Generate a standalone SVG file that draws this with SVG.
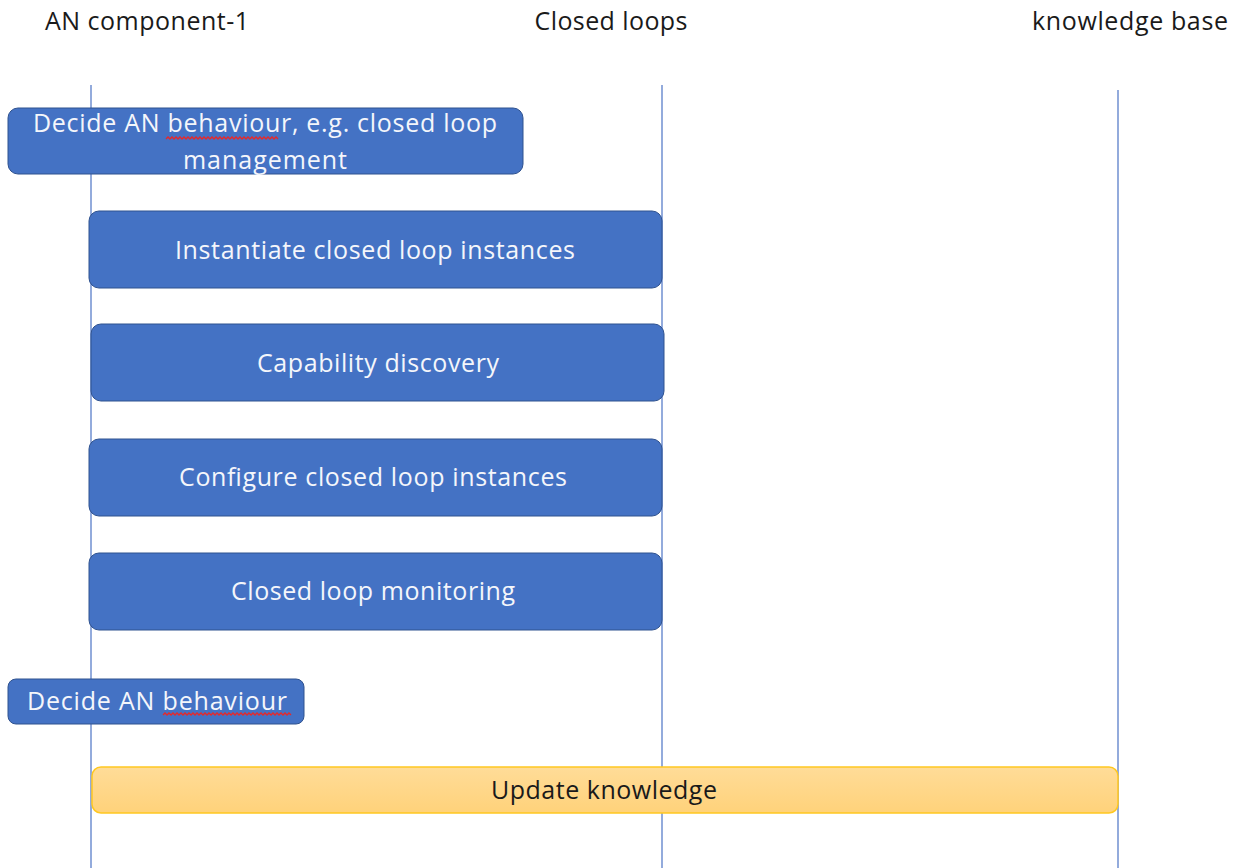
<svg xmlns="http://www.w3.org/2000/svg" width="1240" height="868" viewBox="0 0 1240 868">
<style>
.hdr{font-family:"Open Sans","Liberation Sans",sans-serif;font-size:25px;fill:#1a1a1a;text-anchor:middle}
.lbl{font-family:"Open Sans","Liberation Sans",sans-serif;font-size:25px;fill:#f4f6fb;text-anchor:middle}
.lbl2{font-family:"Open Sans","Liberation Sans",sans-serif;font-size:25px;fill:#1a1a1a;text-anchor:middle}
.life{stroke:#6f8fd0;stroke-width:1.5;fill:none}
.box{fill:#4472c4;stroke:#2f528f;stroke-width:1}
.ybox{fill:url(#yg);stroke:#ffc820;stroke-width:1.5}
.sq{stroke:#e82828;stroke-width:1.3;fill:none}
</style>
<defs>
<linearGradient id="yg" x1="0" y1="0" x2="0" y2="1">
<stop offset="0" stop-color="#ffdc98"/>
<stop offset="1" stop-color="#ffd27a"/>
</linearGradient>
</defs>
<rect width="1240" height="868" fill="#ffffff"/>
<g id="headers">
<text class="hdr" x="147" y="30" textLength="204">AN component-1</text>
<text class="hdr" x="611" y="30" textLength="153">Closed loops</text>
<text class="hdr" x="1130" y="30" textLength="196">knowledge base</text>
</g>
<g id="connectors">
<line class="life" x1="91" y1="85" x2="91" y2="868"/>
<line class="life" x1="662" y1="85" x2="662" y2="868"/>
<line class="life" x1="1118" y1="90" x2="1118" y2="868"/>
</g>
<g id="n1">
<rect class="box" x="8" y="108" width="515" height="66" rx="10"/>
<text class="lbl" x="265" y="132" textLength="464">Decide AN behaviour, e.g. closed loop</text>
<text class="lbl" x="265" y="169" textLength="164">management</text>
<path class="sq" d="M166 139 l2 -2 l2 2 l2 -2 l2 2 l2 -2 l2 2 l2 -2 l2 2 l2 -2 l2 2 l2 -2 l2 2 l2 -2 l2 2 l2 -2 l2 2 l2 -2 l2 2 l2 -2 l2 2 l2 -2 l2 2 l2 -2 l2 2 l2 -2 l2 2 l2 -2 l2 2 l2 -2 l2 2 l2 -2 l2 2 l2 -2 l2 2 l2 -2 l2 2 l2 -2 l2 2 l2 -2 l2 2 l2 -2 l2 2 l2 -2 l2 2 l2 -2 l2 2 l2 -2 l2 2 l2 -2 l2 2 l2 -2 l2 2 l2 -2 l2 2 l2 -2 l2 2"/>
</g>
<g id="n2">
<rect class="box" x="89" y="211" width="573" height="77" rx="10"/>
<text class="lbl" x="375" y="259" textLength="400">Instantiate closed loop instances</text>
</g>
<g id="n3">
<rect class="box" x="91" y="324" width="573" height="77" rx="10"/>
<text class="lbl" x="378" y="372" textLength="242">Capability discovery</text>
</g>
<g id="n4">
<rect class="box" x="89" y="439" width="573" height="77" rx="10"/>
<text class="lbl" x="373" y="486" textLength="388">Configure closed loop instances</text>
</g>
<g id="n5">
<rect class="box" x="89" y="553" width="573" height="77" rx="10"/>
<text class="lbl" x="373" y="600" textLength="284">Closed loop monitoring</text>
</g>
<g id="n6">
<rect class="box" x="8" y="679" width="296" height="45" rx="8"/>
<text class="lbl" x="157" y="710" textLength="260">Decide AN behaviour</text>
<path class="sq" d="M163 715 l2 -2 l2 2 l2 -2 l2 2 l2 -2 l2 2 l2 -2 l2 2 l2 -2 l2 2 l2 -2 l2 2 l2 -2 l2 2 l2 -2 l2 2 l2 -2 l2 2 l2 -2 l2 2 l2 -2 l2 2 l2 -2 l2 2 l2 -2 l2 2 l2 -2 l2 2 l2 -2 l2 2 l2 -2 l2 2 l2 -2 l2 2 l2 -2 l2 2 l2 -2 l2 2 l2 -2 l2 2 l2 -2 l2 2 l2 -2 l2 2 l2 -2 l2 2 l2 -2 l2 2 l2 -2 l2 2 l2 -2 l2 2 l2 -2 l2 2 l2 -2 l2 2 l2 -2 l2 2 l2 -2 l2 2 l2 -2 l2 2 l2 -2 l2 2"/>
</g>
<g id="n7">
<rect class="ybox" x="92" y="767" width="1026" height="46" rx="9"/>
<text class="lbl2" x="604" y="799" textLength="226">Update knowledge</text>
</g>
</svg>
